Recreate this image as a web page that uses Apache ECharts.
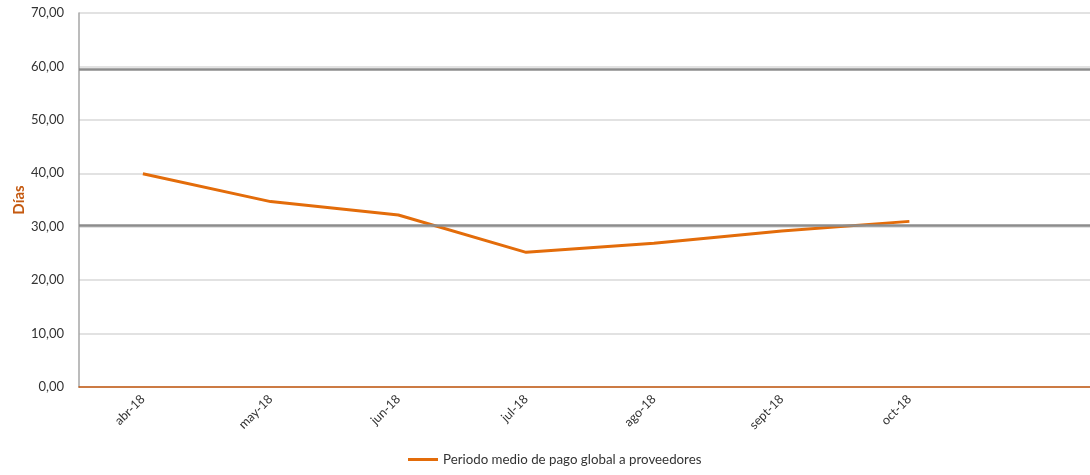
<!DOCTYPE html>
<html>
<head>
<meta charset="utf-8">
<script src="https://cdn.jsdelivr.net/npm/echarts@6/dist/echarts.min.js"></script>
<style>
html,body{margin:0;padding:0;background:#fff;}
#chart{width:1090px;height:475px;}
</style>
</head>
<body>
<div id="chart"></div>
<script>
const categories = ['abr-18', 'may-18', 'jun-18', 'jul-18', 'ago-18', 'sept-18', 'oct-18', ''];
const pmpValues = [39.9, 34.7, 32.2, 25.2, 26.9, 29.2, 31.0, null];
const referenceLines = [30.25, 59.4];
const yTicks = { min: 0, max: 70, interval: 10 };
const seriesName = 'Periodo medio de pago global a proveedores';
const axisName = 'Días';

const FONT = 'Lato, "Open Sans", sans-serif';
const chart = echarts.init(document.getElementById('chart'));
chart.setOption({
  animation: false,
  textStyle: { fontFamily: FONT },
  grid: { left: 79, right: -11, top: 13, bottom: 88, containLabel: false, outerBoundsMode: 'none' },
  legend: {
    data: [seriesName],
    bottom: 4,
    left: 403,
    itemWidth: 30,
    itemHeight: 3,
    icon: 'rect',
    itemGap: 5,
    textStyle: { fontFamily: FONT, fontSize: 13.3, color: '#333' }
  },
  xAxis: {
    type: 'category',
    data: categories,
    boundaryGap: true,
    axisLine: { lineStyle: { color: '#C55A11', width: 1.5 } },
    axisTick: { show: false },
    axisLabel: { rotate: 45, fontSize: 12.5, color: '#333', margin: 10, interval: 0, fontFamily: FONT }
  },
  yAxis: {
    type: 'value',
    min: yTicks.min,
    max: yTicks.max,
    interval: yTicks.interval,
    name: axisName,
    nameLocation: 'middle',
    nameGap: 52,
    nameMoveOverlap: false,
    nameTextStyle: { color: '#C55A11', fontWeight: 'bold', fontSize: 15, fontFamily: FONT },
    axisLine: { show: true, lineStyle: { color: '#a6a6a6', width: 1.5 } },
    axisTick: { show: false },
    axisLabel: {
      fontSize: 13, color: '#333', margin: 15, fontFamily: FONT,
      formatter: v => v.toFixed(2).replace('.', ',')
    },
    splitLine: { lineStyle: { color: '#d9d9d9', width: 1.5 } }
  },
  series: [{
    name: seriesName,
    type: 'line',
    data: pmpValues,
    showSymbol: false,
    symbol: 'none',
    lineStyle: { color: '#E36C0A', width: 3 },
    itemStyle: { color: '#E36C0A' },
    z: 3,
    markLine: {
      silent: true,
      symbol: ['none', 'none'],
      label: { show: false },
      lineStyle: { color: '#8c8c8c', width: 2.5, type: 'solid' },
      data: referenceLines.map(v => ({ yAxis: v }))
    }
  }]
});
</script>
</body>
</html>
